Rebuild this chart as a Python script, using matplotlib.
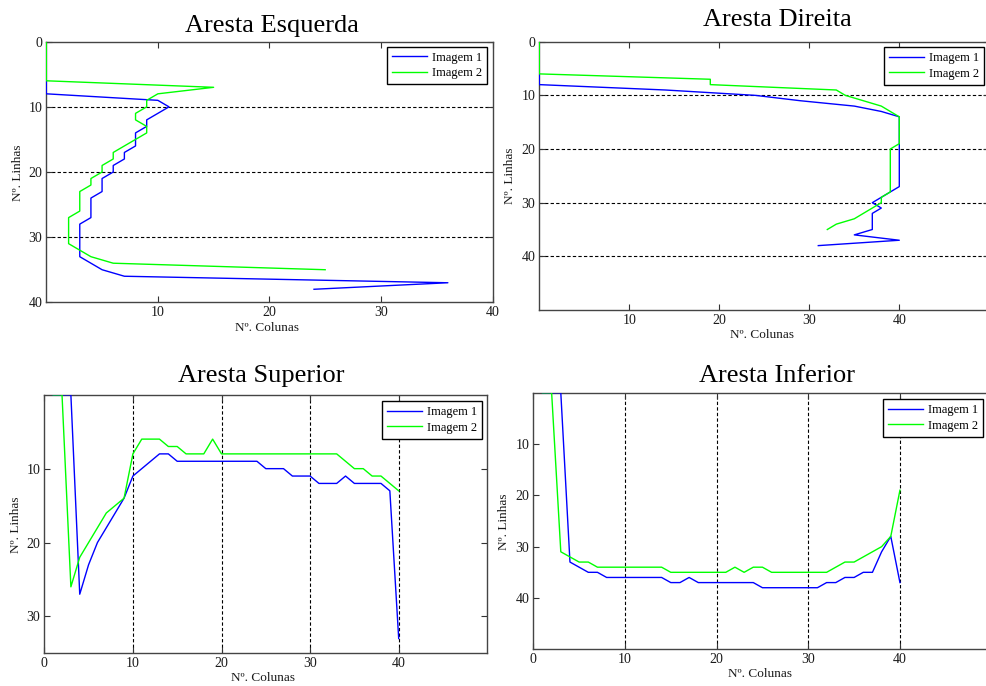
import numpy as np
import matplotlib
matplotlib.use('Agg')
import matplotlib.pyplot as plt

plt.rcParams['font.family'] = ['Liberation Serif', 'DejaVu Serif']

W, H = 986, 686

# Aresta Esquerda: coluna da aresta para cada linha (0..)
esq_img1 = [0, 0, 0, 0, 0, 0, 0, 0, 0, 10, 11, 10, 9, 9, 8, 8, 8, 7, 7, 6, 6,
            5, 5, 5, 4, 4, 4, 4, 3, 3, 3, 3, 3, 3, 4, 5, 7, 36, 24]
esq_img2 = [0, 0, 0, 0, 0, 0, 0, 15, 10, 9, 9, 8, 8, 9, 9, 8, 7, 6, 6, 5, 5,
            4, 4, 3, 3, 3, 3, 2, 2, 2, 2, 2, 3, 4, 6, 25]

# Aresta Direita
dir_img1 = [0, 0, 0, 0, 0, 0, 0, 0, 0, 14, 24, 29, 35, 38,
            40, 40, 40, 40, 40, 40, 40, 40, 40, 40, 40, 40, 40, 40,
            39, 38, 37, 38, 37, 37, 37, 37, 35, 40, 31]
dir_img2 = [0, 0, 0, 0, 0, 0, 0, 19, 19, 33, 34, 36, 38, 39,
            40, 40, 40, 40, 40, 40, 39, 39, 39, 39, 39, 39, 39, 39, 39,
            38, 38, 37, 36, 35, 33, 32]

# Aresta Superior: linha da aresta para cada coluna (1..40)
sup_img1 = [0, 0, 0, 27, 23, 20, 18, 16, 14, 11, 10, 9, 8, 8,
            9, 9, 9, 9, 9, 9, 9, 9, 9, 9, 10, 10, 10, 11, 11, 11,
            12, 12, 12, 11, 12, 12, 12, 12, 13, 33]
sup_img2 = [0, 0, 26, 22, 20, 18, 16, 15, 14, 8, 6, 6, 6, 7, 7, 8, 8, 8, 6, 8,
            8, 8, 8, 8, 8, 8, 8, 8, 8, 8, 8, 8, 8, 9, 10, 10, 11, 11, 12, 13]

# Aresta Inferior
inf_img1 = [0, 0, 0, 33, 34, 35, 35, 36, 36, 36, 36, 36, 36, 36, 37, 37, 36,
            37, 37, 37, 37, 37, 37, 37, 38, 38, 38, 38, 38, 38, 38,
            37, 37, 36, 36, 35, 35, 31, 28, 37]
inf_img2 = [0, 0, 31, 32, 33, 33, 34, 34, 34, 34, 34, 34, 34, 34,
            35, 35, 35, 35, 35, 35, 35, 34, 35, 34, 34,
            35, 35, 35, 35, 35, 35, 35, 34, 33, 33, 32, 31, 30, 28, 19]

labels = ['Imagem 1', 'Imagem 2']


def rect(l, t, r, b):
    return [l / W, 1 - b / H, (r - l) / W, (b - t) / H]


def fx(x):
    return x / W


def fy(y):
    return 1 - y / H


fig = plt.figure(figsize=(W / 100, H / 100), dpi=100)

panels = [
    # title, rect, xlim, ylim, xticks, yticks, grid axis, title pos, ylabel pos, xlabel pos, legend pos
    dict(title='Aresta Esquerda', r=(46.3, 41.7, 492.5, 302.3), xlim=(0, 40), ylim=(40, 0),
         xt=[10, 20, 30, 40], yt=[0, 10, 20, 30, 40], grid='y', gl=[10, 20, 30],
         tp=(271.5, 32), yl=(18, 173), xl=(267, 328), lg=(386.7, 46.7)),
    dict(title='Aresta Direita', r=(539.3, 41.7, 989.3, 310), xlim=(0, 50), ylim=(50, 0),
         xt=[10, 20, 30, 40], yt=[0, 10, 20, 30, 40], grid='y', gl=[10, 20, 30, 40],
         tp=(777.5, 26), yl=(510, 176), xl=(762.5, 335), lg=(884, 47)),
    dict(title='Aresta Superior', r=(44.3, 394.8, 487.3, 653.3), xlim=(0, 50), ylim=(35, 0),
         xt=[0, 10, 20, 30, 40], yt=[10, 20, 30], grid='x', gl=[10, 20, 30, 40],
         tp=(261, 382), yl=(16, 525), xl=(263, 678), lg=(381.7, 401)),
    dict(title='Aresta Inferior', r=(533.3, 392.7, 991.6, 649.3), xlim=(0, 50), ylim=(50, 0),
         xt=[0, 10, 20, 30, 40], yt=[10, 20, 30, 40], grid='x', gl=[10, 20, 30, 40],
         tp=(777, 382), yl=(504, 522), xl=(760, 674), lg=(883, 399)),
]

series = [
    (esq_img1, esq_img2, 'rows'),
    (dir_img1, dir_img2, 'rows'),
    (sup_img1, sup_img2, 'cols'),
    (inf_img1, inf_img2, 'cols'),
]

for p, (s1, s2, kind) in zip(panels, series):
    ax = fig.add_axes(rect(*p['r']))
    for gv in p['gl']:
        if p['grid'] == 'y':
            ax.axhline(gv, color='black', lw=0.8, ls=(0, (3, 2)), zorder=1)
        else:
            ax.axvline(gv, color='black', lw=0.8, ls=(0, (3, 2)), zorder=1)
    for vals, c, lab in ((s1, '#0000ff', labels[0]), (s2, '#00ff00', labels[1])):
        if kind == 'rows':
            ax.plot(vals, np.arange(len(vals)), color=c, lw=1.0, label=lab, zorder=3)
        else:
            ax.plot(np.arange(1, len(vals) + 1), vals, color=c, lw=1.0, label=lab, zorder=3)
    ax.set_xlim(*p['xlim'])
    ax.set_ylim(*p['ylim'])
    ax.set_xticks(p['xt'])
    ax.set_yticks(p['yt'])
    ax.tick_params(direction='in', top=True, right=True, length=4, width=0.8,
                   labelsize=10, colors='#333333', labelcolor='#1a1a1a', pad=3)
    for sp in ax.spines.values():
        sp.set_color('#444444')
        sp.set_linewidth(1.0)
    leg = ax.legend(loc='upper left', bbox_to_anchor=(fx(p['lg'][0]), fy(p['lg'][1])),
                    bbox_transform=fig.transFigure, borderaxespad=0, fontsize=9,
                    frameon=True, fancybox=False, borderpad=0.4, handlelength=2.8,
                    handletextpad=0.4, labelspacing=0.3)
    leg.get_frame().set_edgecolor('black')
    leg.get_frame().set_linewidth(1.0)
    leg.get_frame().set_alpha(1)
    fig.text(fx(p['tp'][0]), fy(p['tp'][1]), p['title'], ha='center', va='baseline',
             fontsize=19)
    fig.text(fx(p['yl'][0]), fy(p['yl'][1]), 'Nº. Linhas', ha='center', va='center',
             rotation=90, fontsize=9.5, color='#1a1a1a')
    fig.text(fx(p['xl'][0]), fy(p['xl'][1]), 'Nº. Colunas', ha='center', va='center',
             fontsize=9.5, color='#1a1a1a')

fig.savefig('out.png', dpi=100, facecolor='white')
